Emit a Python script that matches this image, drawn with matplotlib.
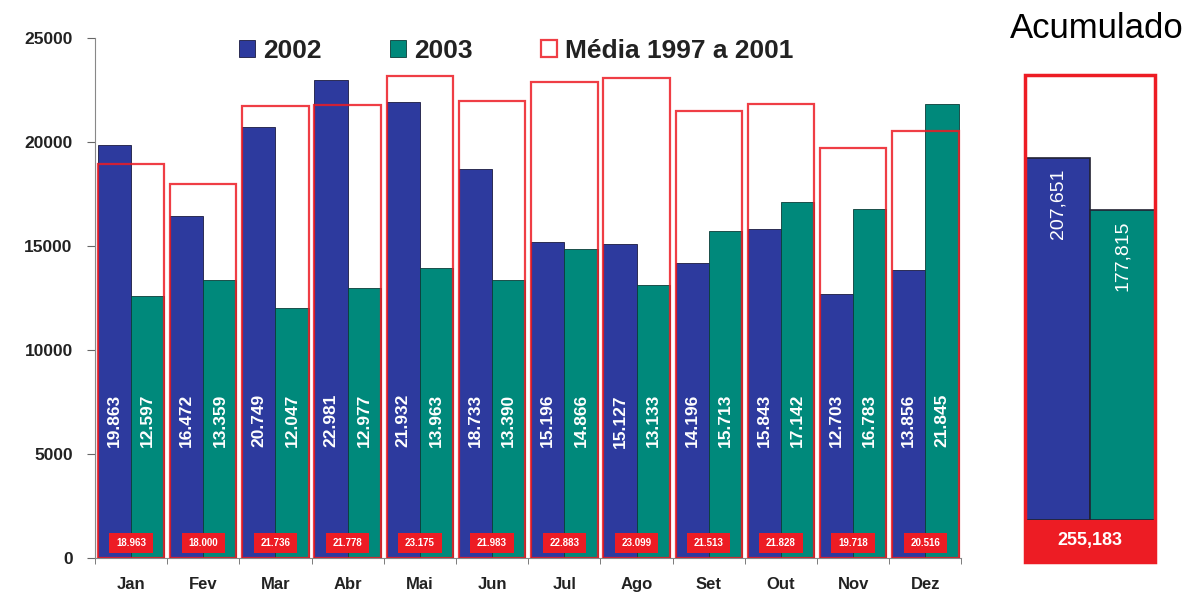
import numpy as np
import matplotlib.pyplot as plt
from matplotlib.patches import Rectangle
from matplotlib import font_manager

plt.rcParams['font.family'] = ['Liberation Sans', 'DejaVu Sans']

months = ['Jan', 'Fev', 'Mar', 'Abr', 'Mai', 'Jun', 'Jul', 'Ago', 'Set', 'Out', 'Nov', 'Dez']
v2002 = [19863, 16472, 20749, 22981, 21932, 18733, 15196, 15127, 14196, 15843, 12703, 13856]
v2003 = [12597, 13359, 12047, 12977, 13963, 13390, 14866, 13133, 15713, 17142, 16783, 21845]
media = [18963, 18000, 21736, 21778, 23175, 21983, 22883, 23099, 21513, 21828, 19718, 20516]

acc_labels = ['2002', '2003']
acc_values = [207651, 177815]
acc_media = 255183

blue = '#2D3A9E'
teal = '#00897B'
red = '#ED1C24'

names = {f.name for f in font_manager.fontManager.ttflist}
narrow = 'Liberation Sans Narrow' if 'Liberation Sans Narrow' in names else 'Liberation Sans'

def fmt(v):
    return f'{v:,}'.replace(',', '.')

fig = plt.figure(figsize=(11.87, 5.94), dpi=100)

# main chart
ax = fig.add_axes([0.080, 0.0606, 0.730, 0.875])
x = np.arange(len(months))
w = 0.46
ax.bar(x - w / 2, v2002, w, color=blue, edgecolor='#1a1a40', linewidth=0.6, label='2002', zorder=2)
ax.bar(x + w / 2, v2003, w, color=teal, edgecolor='#0b3d38', linewidth=0.6, label='2003', zorder=2)
ax.bar(x, media, 2 * w, facecolor='none', edgecolor=red, linewidth=1.6, alpha=0.85,
       label='Média 1997 a 2001', zorder=3)

for i in range(len(months)):
    ax.text(x[i] - w / 2, 6600, fmt(v2002[i]), rotation=90, ha='center', va='center', family=narrow,
            color='white', fontsize=12.5, fontweight='bold', zorder=4)
    ax.text(x[i] + w / 2, 6600, fmt(v2003[i]), rotation=90, ha='center', va='center', family=narrow,
            color='white', fontsize=12.5, fontweight='bold', zorder=4)
    ax.add_patch(Rectangle((x[i] - 0.3, 250), 0.6, 950, facecolor=red, edgecolor='none', zorder=4))
    ax.text(x[i], 725, fmt(media[i]), ha='center', va='center', color='white', family=narrow,
            fontsize=7, fontweight='bold', zorder=5)

ax.set_xlim(-0.5, len(months) - 0.5)
ax.set_ylim(0, 25000)
ax.set_yticks([0, 5000, 10000, 15000, 20000, 25000])
ax.set_xticks(x)
ax.set_xticklabels(months, fontweight='bold', fontsize=12, color='#222222')
ax.set_xticks(np.arange(-0.5, len(months)), minor=True)
ax.tick_params(axis='x', which='major', length=0, pad=14)
ax.tick_params(axis='x', which='minor', length=4, color='#666666')
ax.tick_params(axis='y', length=6, color='#666666', labelsize=12.5, pad=10)
for lbl in ax.get_yticklabels():
    lbl.set_fontweight('bold')
    lbl.set_color('#222222')
ax.spines['top'].set_visible(False)
ax.spines['right'].set_visible(False)
ax.spines['left'].set_color('#888888')
ax.spines['bottom'].set_color('#888888')

leg = ax.legend(loc='upper center', bbox_to_anchor=(0.486, 1.045), ncol=3, frameon=False,
                prop={'weight': 'bold', 'size': 19}, handlelength=0.6, handleheight=0.6,
                handletextpad=0.3, columnspacing=2.6)
for t in leg.get_texts():
    t.set_color('#222222')

# accumulated panel
ax2 = fig.add_axes([1025 / 1187, 32 / 594, 130 / 1187, 487 / 594])
L = 24100
ax2.set_xlim(0, 2)
ax2.set_ylim(-L, acc_media)
ax2.bar([0.5, 1.5], acc_values, 1.0, color=[blue, teal], edgecolor='#222233', linewidth=1.2, zorder=2)
ax2.add_patch(Rectangle((0, -L), 2, L, facecolor=red, edgecolor='none', zorder=3))
ax2.add_patch(Rectangle((0, -L), 2, L + acc_media, facecolor='none', edgecolor=red,
                        linewidth=2.5, zorder=4, clip_on=False))
ax2.text(1, -L / 2, f'{acc_media:,}', ha='center', va='center', color='white',
         fontsize=13, fontweight='bold', zorder=5)
ax2.text(0.5, acc_values[0] - 6000, f'{acc_values[0]:,}', rotation=90, ha='center', va='top',
         family=narrow, color='white', fontsize=14, zorder=5)
ax2.text(1.5, acc_values[1] - 6000, f'{acc_values[1]:,}', rotation=90, ha='center', va='top',
         family=narrow, color='white', fontsize=14, zorder=5)
ax2.axis('off')
fig.text(1097 / 1187, 1 - 28 / 594, 'Acumulado', ha='center', va='center', fontsize=25, color='black')

fig.savefig('out.png', dpi=100)
